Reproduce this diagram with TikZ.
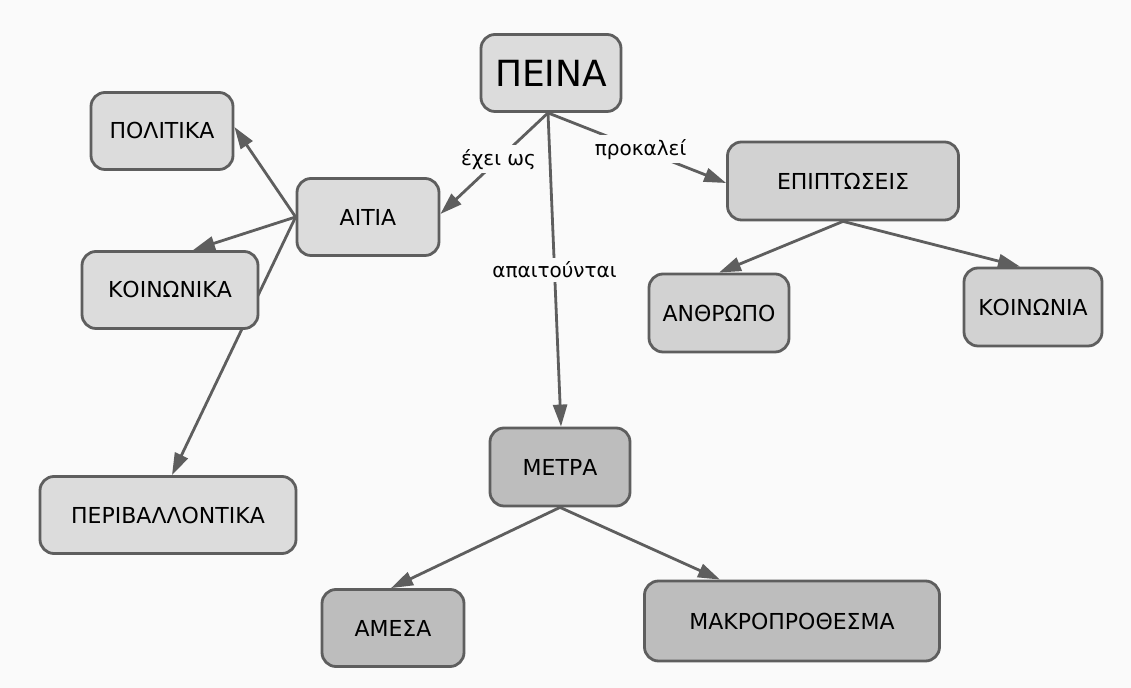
\documentclass[tikz,border=0pt]{standalone}
\usepackage{fontspec}
\setmainfont{DejaVu Sans}
\usetikzlibrary{arrows.meta,backgrounds}
\definecolor{bg}{HTML}{FAFAFA}
\definecolor{edge}{HTML}{5E5E5E}
\definecolor{lite}{HTML}{DCDCDC}
\definecolor{mid}{HTML}{D2D2D2}
\definecolor{dark}{HTML}{BDBDBD}
\tikzset{
  box/.style={draw=edge,line width=1.4pt,rounded corners=7pt,fill=lite,
    minimum height=38.5pt,inner sep=2pt,font=\fontsize{11}{13}\selectfont},
  link/.style={draw=edge,line width=1.4pt,-{Triangle[length=11pt,width=7pt]}},
  lbl/.style={fill=bg,inner sep=2pt,font=\fontsize{10}{12}\selectfont}
}
\begin{document}
\begin{tikzpicture}[x=0.5pt,y=-0.5pt,line cap=round,line join=round]
  \useasboundingbox (0,0) rectangle (1131,688);
  % concepts
  \node[box,minimum width=70pt,font=\fontsize{18}{21}\selectfont] (peina) at (551,73) {ΠΕΙΝΑ};
  \node[box,minimum width=71pt] (politika) at (162,131) {ΠΟΛΙΤΙΚΑ};
  \node[box,minimum width=71pt] (aitia) at (368,217) {ΑΙΤΙΑ};
  \node[box,minimum width=88pt] (koinonika) at (170,290) {ΚΟΙΝΩΝΙΚΑ};
  \node[box,minimum width=128pt] (perivallon) at (168,515) {ΠΕΡΙΒΑΛΛΟΝΤΙΚΑ};
  \node[box,fill=mid,minimum width=115.5pt,minimum height=39pt] (epiptoseis) at (843,181) {ΕΠΙΠΤΩΣΕΙΣ};
  \node[box,fill=mid,minimum width=70pt,minimum height=39pt] (anthropo) at (719,313) {ΑΝΘΡΩΠΟ};
  \node[box,fill=mid,minimum width=69pt,minimum height=39pt] (koinonia) at (1033,307) {ΚΟΙΝΩΝΙΑ};
  \node[box,fill=dark,minimum width=70pt,minimum height=39pt] (metra) at (560,467) {ΜΕΤΡΑ};
  \node[box,fill=dark,minimum width=71pt] (amesa) at (393,628) {ΑΜΕΣΑ};
  \node[box,fill=dark,minimum width=147.5pt,minimum height=40pt] (makro) at (792,621) {ΜΑΚΡΟΠΡΟΘΕΣΜΑ};
  % links
  \begin{pgfonlayer}{background}
    \fill[bg] (0,0) rectangle (1131,688);
    \draw[link] ([xshift=-1.5pt]peina.south) -- node[lbl,pos=0.46] {έχει ως} ([yshift=1.5pt]aitia.east);
    \draw[link] ([xshift=-1.5pt]peina.south) -- node[lbl,pos=0.52] {προκαλεί} ([yshift=-1pt]epiptoseis.west);
    \draw[link] ([xshift=-1.5pt]peina.south) -- node[lbl,pos=0.5] {απαιτούνται} ([xshift=0.5pt]metra.north);
    \draw[link] (aitia.west) -- ([yshift=2pt]politika.east);
    \draw[link] (aitia.west) -- ([xshift=11.5pt]koinonika.north);
    \draw[link] (aitia.west) -- ([xshift=2pt]perivallon.north);
    \draw[link] (epiptoseis.south) -- (anthropo.north);
    \draw[link] (epiptoseis.south) -- ([xshift=-6.5pt]koinonia.north);
    \draw[link] (metra.south) -- ([xshift=-1pt]amesa.north);
    \draw[link] (metra.south) -- ([xshift=-36pt]makro.north);
  \end{pgfonlayer}
\end{tikzpicture}
\end{document}
